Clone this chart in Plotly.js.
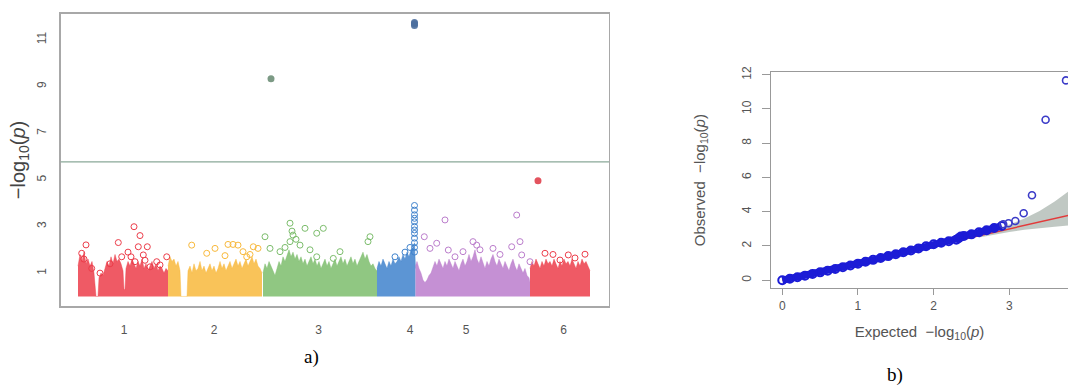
<!DOCTYPE html>
<html><head><meta charset="utf-8">
<script src="https://cdn.plot.ly/plotly-3.0.1.min.js"></script>
<style>html,body{margin:0;padding:0;background:#fff;} #chart{width:1068px;height:385px;}</style>
</head><body><div id="chart"></div>
<script>
// ---------- Manhattan plot data (cumulative position, -log10 p) ----------
const chromLabels = ['1', '2', '3', '4', '5', '6'];
const chromTickPos = [63, 153, 257.5, 349, 405, 502.5];
const threshold = 5.77;

// upper envelope of the dense point cloud of each chromosome
const chr1EnvPos = [17,19,21,23,25,27,29,31,33,34,35,37,38,40,42,44,46,48,50,52,54,56,58,60,62,63,64,65,67,69,71,73,75,77,79,81,83,85,87,89,91,93,95,97,99,101,103,105,107];
const chr1EnvTop = [1.3,1.8,1.5,1.9,1.4,1.6,1.3,1.5,1.0,0.5,0,0,0.8,1.0,0.9,1.2,1.5,1.3,1.7,1.4,1.8,1.5,1.6,1.4,1.1,0.3,0.3,1.2,1.5,1.3,1.6,1.4,1.2,1.5,1.3,1.6,1.2,1.4,1.1,1.3,1.5,1.2,1.4,1.1,1.3,1.2,1.0,1.2,1.1];
const chr2EnvPos = [107,109,111,113,115,117,119,120,126,127,129,131,133,135,137,139,141,143,145,147,149,151,153,155,157,159,161,163,165,167,169,171,173,175,177,179,181,183,185,187,189,191,193,195,197,199,201];
const chr2EnvTop = [1.3,1.7,1.5,1.6,1.3,1.5,1.1,0,0,1.1,1.3,1.0,1.4,1.1,1.2,1.5,1.1,1.3,1.0,1.2,1.4,1.1,1.3,1.0,1.2,1.5,1.2,1.4,1.1,1.3,1.5,1.2,1.4,1.6,1.3,1.5,1.2,1.4,1.6,1.3,1.5,1.7,1.4,1.6,1.3,1.2,1.0];
const chr3EnvPos = [202,204,206,208,210,212,214,216,218,220,222,224,226,228,230,232,234,236,238,240,242,244,246,248,250,252,254,256,258,260,262,264,266,268,270,272,274,276,278,280,282,284,286,288,290,292,294,296,298,300,302,304,306,308,310,312,314,316];
const chr3EnvTop = [1.0,1.4,1.2,1.5,1.3,1.1,0.9,1.2,1.5,1.3,1.7,1.5,1.8,2.0,1.7,1.9,1.6,1.8,1.5,1.7,1.4,1.6,1.3,1.5,1.7,1.4,1.6,1.3,1.5,1.2,1.4,1.6,1.3,1.5,1.2,1.4,1.6,1.3,1.5,1.7,1.4,1.6,1.3,1.5,1.7,1.4,1.6,1.3,1.5,1.7,1.9,1.6,1.8,1.5,1.3,1.4,1.2,1.1];
const chr4EnvPos = [316,318,320,322,324,326,328,330,332,334,336,338,340,342,344,346,348,350,352,353.5,354.5];
const chr4EnvTop = [1.2,1.5,1.3,1.6,1.4,1.2,1.5,1.3,1.6,1.4,1.5,1.7,1.5,1.8,1.6,1.9,1.7,2.0,2.1,2.3,1.2];
const chr5EnvPos = [354.5,356,358,360,362,364,366,368,370,372,374,376,378,380,382,384,386,388,390,392,394,396,398,400,402,404,406,408,410,412,414,416,418,420,422,424,426,428,430,432,434,436,438,440,442,444,446,448,450,452,454,456,458,460,462,464,466,468,469];
const chr5EnvTop = [1.3,1.5,1.2,1.0,0.7,0.6,0.7,0.9,1.0,1.3,1.5,1.3,1.6,1.4,1.2,1.5,1.3,1.6,1.4,1.2,1.5,1.3,1.1,1.4,1.6,1.3,1.5,1.8,1.5,1.7,2.0,1.6,1.4,1.7,1.4,1.2,1.5,1.3,1.6,1.8,1.5,1.3,1.6,1.4,1.2,1.5,1.3,1.1,1.4,1.6,1.3,1.1,1.4,1.2,1.0,1.2,0.9,0.8,0.6];
const chr6EnvPos = [469,471,473,475,477,479,481,483,485,487,489,491,493,495,497,499,501,503,505,507,509,511,513,515,517,519,521,523,525,527,529];
const chr6EnvTop = [1.2,1.5,1.3,1.6,1.4,1.2,1.5,1.3,1.6,1.4,1.5,1.3,1.6,1.4,1.2,1.5,1.3,1.6,1.4,1.5,1.3,1.6,1.4,1.2,1.5,1.3,1.6,1.4,1.5,1.3,1.1];

// individual SNPs standing above the cloud
const chr1Pos = [73,79,25,57.3,77.3,86.3,70,82.3,95.7,105.7,20.7,30.7,60.7,74,89,23,67,84,99,39,49];
const chr1Logp = [2.99,2.61,2.21,2.31,2.13,2.13,1.70,1.78,1.49,1.70,1.85,1.2,1.70,1.49,1.27,1.6,1.9,1.55,1.35,1.0,1.4];
const chr2Pos = [130.7,154,167,172,177,182,192.3,197,185.7,145.7,189,164];
const chr2Logp = [2.2,2.06,2.23,2.23,2.2,1.92,2.13,2.06,1.7,1.85,1.8,1.75];
const chr3Pos = [204,209,229,244,255.7,262.3,232,229,239,219,255.7,272.3,309,307,279,235,231,249,224];
const chr3Logp = [2.56,2.06,3.14,2.92,2.71,2.92,2.63,2.35,2.2,1.92,1.7,1.63,2.56,2.35,1.92,2.45,2.8,2.0,2.1];
const chr4Pos = [353.5,353.5,353.5,353.5,353.5,353.5,353.5,353.5,353.5,353.5,353.5,353.5,344,349,334];
const chr4Logp = [1.9,2.1,2.3,2.5,2.7,2.85,3.0,3.2,3.35,3.5,3.7,3.9,1.9,2.1,1.7];
const chr5Pos = [363.3,384,455.7,375.7,369,387.3,402,412,415.7,432,450.7,459,460.7,469,419,439,394];
const chr5Logp = [2.56,3.28,3.49,2.28,2.06,1.99,1.92,2.35,2.2,2.06,2.13,2.35,1.78,1.49,2.0,1.8,1.7];
const chr6Pos = [484,492,507.3,524,499,514];
const chr6Logp = [1.85,1.8,1.78,1.81,1.56,1.65];

// genome-wide significant / top hits
const hitPos = [353.5, 353.5, 353.5, 210, 477];
const hitLogp = [11.62, 11.69, 11.75, 9.33, 4.96];
const hitChrom = [4, 4, 4, 3, 6];

// ---------- QQ plot data ----------
const qqExpDense = [0,0.1,0.2,0.3,0.4,0.5,0.6,0.7,0.8,0.9,1.0,1.1,1.2,1.3,1.4,1.5,1.6,1.7,1.8,1.9,2.0,2.1,2.2,2.3,2.33,2.36,2.4,2.5,2.6,2.7,2.8,2.9];
const qqObsDense = [0,0.09,0.18,0.27,0.37,0.46,0.56,0.66,0.76,0.86,0.97,1.08,1.19,1.3,1.41,1.52,1.63,1.74,1.86,1.98,2.1,2.19,2.28,2.37,2.45,2.55,2.58,2.68,2.8,2.92,3.05,3.17];
const qqExpTail = [2.92,2.99,3.08,3.19,3.30,3.48,3.75];
const qqObsTail = [3.27,3.33,3.46,3.91,4.96,9.37,11.67];
const qqBandExp = [2.6,2.8,3.0,3.2,3.4,3.6,3.8];
const qqBandUpper = [2.72,2.95,3.25,3.6,4.05,4.6,5.25];
const qqBandLower = [2.5,2.66,2.82,2.95,3.05,3.13,3.2];
const qqDiag = [0, 4];

// ---------- styling ----------
const colors = ['#ec3d4a', '#f8b93c', '#7cbd6c', '#3f82cc', '#bb7dcc', '#ec3d4a'];
const fills = ['rgba(236,61,74,0.85)', 'rgba(248,185,60,0.85)', 'rgba(124,189,108,0.85)', 'rgba(63,130,204,0.85)', 'rgba(187,125,204,0.85)', 'rgba(236,61,74,0.85)'];
const env = [[chr1EnvPos, chr1EnvTop], [chr2EnvPos, chr2EnvTop], [chr3EnvPos, chr3EnvTop], [chr4EnvPos, chr4EnvTop], [chr5EnvPos, chr5EnvTop], [chr6EnvPos, chr6EnvTop]];
const pts = [[chr1Pos, chr1Logp], [chr2Pos, chr2Logp], [chr3Pos, chr3Logp], [chr4Pos, chr4Logp], [chr5Pos, chr5Logp], [chr6Pos, chr6Logp]];
const hitColors = {3: '#6e8f78', 4: '#4d6f9e', 6: '#e0404c'};

const traces = [];
env.forEach((e, i) => {
  traces.push({type: 'scatter', mode: 'lines', x: e[0], y: e[1], fill: 'tozeroy',
    fillcolor: fills[i], line: {color: fills[i], width: 0.5}, xaxis: 'x', yaxis: 'y', hoverinfo: 'skip'});
});
pts.forEach((p, i) => {
  traces.push({type: 'scatter', mode: 'markers', x: p[0], y: p[1],
    marker: {symbol: 'circle-open', size: 6, color: colors[i], line: {width: 1, color: colors[i]}}, xaxis: 'x', yaxis: 'y'});
});
traces.push({type: 'scatter', mode: 'markers', x: hitPos, y: hitLogp,
  marker: {symbol: 'circle', size: 7, color: hitChrom.map(c => hitColors[c]), opacity: 0.9}, xaxis: 'x', yaxis: 'y'});

// QQ traces
traces.push({type: 'scatter', mode: 'lines', x: qqBandExp.concat(qqBandExp.slice().reverse()),
  y: qqBandUpper.concat(qqBandLower.slice().reverse()), fill: 'toself', fillcolor: 'rgba(140,155,145,0.55)',
  line: {width: 0}, xaxis: 'x2', yaxis: 'y2'});
traces.push({type: 'scatter', mode: 'lines', x: qqDiag, y: qqDiag, line: {color: '#e23a3a', width: 1.5}, xaxis: 'x2', yaxis: 'y2'});
traces.push({type: 'scatter', mode: 'lines+markers', x: qqExpDense, y: qqObsDense,
  line: {color: '#1c1cd6', width: 7}, marker: {symbol: 'circle-open', size: 8, color: '#1c1cd6', line: {width: 2}}, xaxis: 'x2', yaxis: 'y2'});
traces.push({type: 'scatter', mode: 'markers', x: qqExpTail, y: qqObsTail,
  marker: {symbol: 'circle-open', size: 7, color: '#3b3bc8', line: {width: 1.6, color: '#3b3bc8'}}, xaxis: 'x2', yaxis: 'y2'});

const tickFont = {family: 'Liberation Sans, Arial, sans-serif', size: 12, color: '#555'};
const layout = {
  width: 1068, height: 385, showlegend: false,
  margin: {l: 0, r: 0, t: 0, b: 0}, paper_bgcolor: '#fff', plot_bgcolor: '#fff',
  xaxis: {domain: [0.05684, 0.57022], range: [-0.3, 548], showgrid: false, zeroline: false,
    showline: true, mirror: true, linecolor: '#a8a8a8', linewidth: 1.5,
    tickmode: 'array', tickvals: chromTickPos, ticktext: chromLabels, ticks: '', ticklabelstandoff: 12,
    tickfont: tickFont, anchor: 'y'},
  yaxis: {domain: [0.20519, 0.96364], range: [-0.41, 12.11], showgrid: false, zeroline: false,
    showline: true, mirror: true, linecolor: '#a8a8a8', linewidth: 1.5,
    tickmode: 'array', tickvals: [1, 3, 5, 7, 9, 11], ticks: '', tickangle: -90, ticklabelstandoff: 8,
    tickfont: tickFont, anchor: 'x',
    title: {text: '\u2212log<sub>10</sub>(<i>p</i>)', font: {family: 'Liberation Sans, Arial, sans-serif', size: 20, color: '#444'}, standoff: 4}},
  xaxis2: {domain: [0.72191, 1], range: [-0.149, 3.776], showgrid: false, zeroline: false,
    showline: true, mirror: true, linecolor: '#999', linewidth: 1.2,
    tickmode: 'array', tickvals: [0, 1, 2, 3], ticks: 'outside', ticklen: 6, tickcolor: '#999',
    tickfont: tickFont, anchor: 'y2',
    title: {text: 'Expected  \u2212log<sub>10</sub>(<i>p</i>)', font: {family: 'Liberation Sans, Arial, sans-serif', size: 15, color: '#555'}, standoff: 14}},
  yaxis2: {domain: [0.25117, 0.81299], range: [-0.47, 12.16], showgrid: false, zeroline: false,
    showline: true, mirror: false, linecolor: '#999', linewidth: 1.2,
    tickmode: 'array', tickvals: [0, 2, 4, 6, 8, 10, 12], ticks: 'outside', ticklen: 8, tickcolor: '#999',
    tickangle: -90, tickfont: tickFont, anchor: 'x2', ticklabelstandoff: 6,
    title: {text: 'Observed  \u2212log<sub>10</sub>(<i>p</i>)', font: {family: 'Liberation Sans, Arial, sans-serif', size: 15, color: '#555'}, standoff: 30}},
  shapes: [{type: 'line', xref: 'x domain', yref: 'y', x0: 0, x1: 1, y0: threshold, y1: threshold,
    line: {color: '#8aa898', width: 1.2}}],
  annotations: [
    {text: 'a)', xref: 'paper', yref: 'paper', x: 0.2921, y: 0.0727, xanchor: 'center', yanchor: 'middle', showarrow: false,
      font: {family: 'Liberation Serif, Times New Roman, serif', size: 19, color: '#000'}},
    {text: 'b)', xref: 'paper', yref: 'paper', x: 0.838, y: 0.026, xanchor: 'center', yanchor: 'middle', showarrow: false,
      font: {family: 'Liberation Serif, Times New Roman, serif', size: 19, color: '#000'}}
  ]
};
Plotly.newPlot('chart', traces, layout, {displayModeBar: false, staticPlot: true});
</script></body></html>
